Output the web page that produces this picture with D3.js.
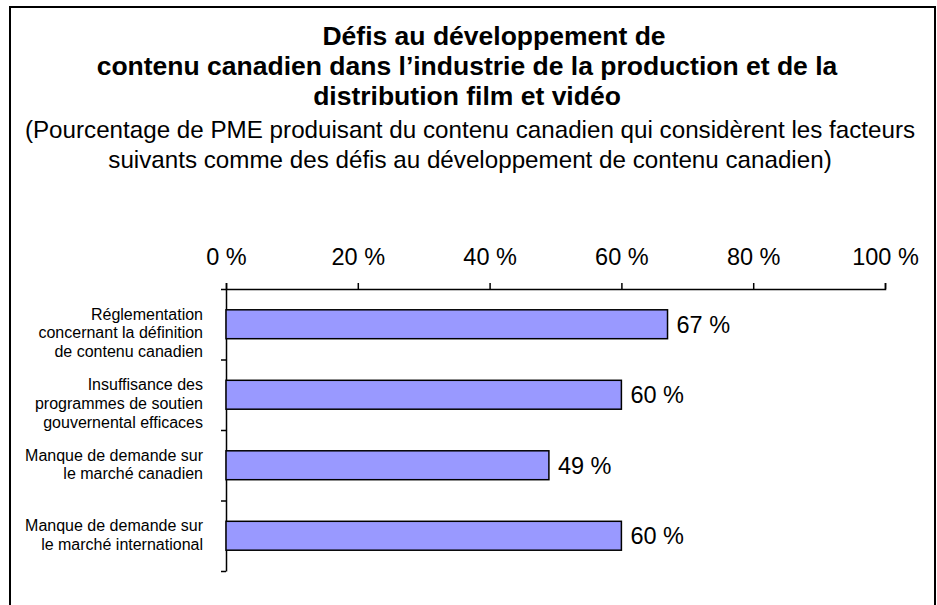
<!DOCTYPE html>
<html>
<head>
<meta charset="utf-8">
<script src="https://cdn.jsdelivr.net/npm/d3@7"></script>
<style>
  body { margin: 0; background: #fff; }
  svg text { font-family: "Liberation Sans", Arial, sans-serif; fill: #000; }
</style>
</head>
<body>
<svg id="chart" width="937" height="605"></svg>
<script>
// data
var titleLines = ["Défis au développement de",
                  "contenu canadien dans l’industrie de la production et de la",
                  "distribution film et vidéo"];
var subtitleLines = ["(Pourcentage de PME produisant du contenu canadien qui considèrent les facteurs",
                     "suivants comme des défis au développement de contenu canadien)"];
var categories = [
  ["Réglementation", "concernant la définition", "de contenu canadien"],
  ["Insuffisance des", "programmes de soutien", "gouvernental efficaces"],
  ["Manque de demande sur", "le marché canadien"],
  ["Manque de demande sur", "le marché international"]
];
var values = [67, 60, 49, 60];
var xTicks = [0, 20, 40, 60, 80, 100];

var svg = d3.select("#chart");

// frame
svg.append("rect")
  .attr("x", 10).attr("y", 7)
  .attr("width", 925).attr("height", 640)
  .style("fill", "none").style("stroke", "#000").style("stroke-width", 2);

// titles
var T = svg.append("g").attr("class", "titles");
T.selectAll("text.t").data(titleLines).enter().append("text")
  .attr("class", "t")
  .attr("x", function(d, i){ return i == 0 ? 494 : 467; })
  .attr("y", function(d, i){ return 45 + 30 * i; })
  .attr("text-anchor", "middle")
  .style("font-size", "26.5px").style("font-weight", "bold")
  .text(function(d){ return d; });
T.selectAll("text.s").data(subtitleLines).enter().append("text")
  .attr("class", "s")
  .attr("x", 470)
  .attr("y", function(d, i){ return 138 + 30 * i; })
  .attr("text-anchor", "middle")
  .style("font-size", "24.2px")
  .text(function(d){ return d; });

// scales
var plot = {left: 226, right: 885, top: 289, bottom: 571};
var xScale = d3.scaleLinear().domain([0, 100]).range([plot.left, plot.right]);
var yBand = d3.scaleBand().domain(d3.range(categories.length)).range([plot.top, plot.bottom]).padding(0);
var yEdges = d3.scaleLinear().domain([0, categories.length]).range([plot.top, plot.bottom]);

// x axis on top
var gx = svg.append("g").attr("class", "x axis")
  .attr("transform", "translate(0," + plot.top + ")")
  .call(d3.axisTop(xScale).tickValues(xTicks).tickSize(6).tickPadding(18)
    .tickFormat(function(d){ return d + " %"; }));
gx.selectAll("text").style("font-size", "23.5px").style("font-family", null);
gx.selectAll("path, line").style("stroke", "#000").style("stroke-width", 1.5);

// y axis (band edges)
var gy = svg.append("g").attr("class", "y axis")
  .attr("transform", "translate(" + plot.left + ",0)")
  .call(d3.axisLeft(yEdges).tickValues(d3.range(categories.length + 1)).tickSize(5).tickSizeOuter(0).tickFormat(""));
gy.selectAll("path, line").style("stroke", "#000").style("stroke-width", 1.5);

// bars
var barH = yBand.bandwidth() * 0.41;
var bars = svg.append("g").attr("class", "bars");
bars.selectAll("rect").data(values).enter().append("rect")
  .attr("x", xScale(0))
  .attr("y", function(d, i){ return yBand(i) + yBand.bandwidth() / 2 - barH / 2; })
  .attr("width", function(d){ return xScale(d) - xScale(0); })
  .attr("height", barH)
  .style("fill", "#9999ff").style("stroke", "#000").style("stroke-width", 1.5);

// value labels
bars.selectAll("text").data(values).enter().append("text")
  .attr("x", function(d){ return xScale(d) + 9; })
  .attr("y", function(d, i){ return yBand(i) + yBand.bandwidth() / 2 + 8.5; })
  .style("font-size", "23.5px")
  .text(function(d){ return d + " %"; });

// category labels
var cats = svg.append("g").attr("class", "cats");
cats.selectAll("text").data(categories).enter().append("text")
  .attr("text-anchor", "end")
  .style("font-size", "16px")
  .each(function(lines, i){
    var c = yBand(i) + yBand.bandwidth() / 2;
    d3.select(this).selectAll("tspan").data(lines).enter().append("tspan")
      .attr("x", plot.left - 23)
      .attr("y", function(l, j){ return c - 4.5 + 18.7 * j; })
      .text(function(l){ return l; });
  });
</script>
</body>
</html>
